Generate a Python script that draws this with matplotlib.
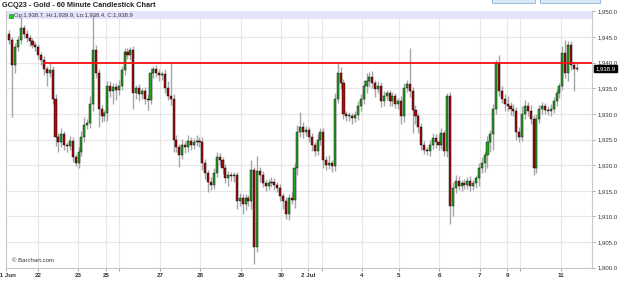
import matplotlib
matplotlib.use("Agg")
import matplotlib.pyplot as plt
from matplotlib.patches import Rectangle
import numpy as np

# Hourly closes for GCQ23 (gold, August 2023 contract)
closes = [
    1944.5, 1939.5, 1943.0, 1944.5, 1946.8, 1945.5, 1944.8, 1944.2, 1943.5, 1943.0,
    1941.5, 1940.5, 1938.8, 1938.0, 1938.6, 1933.0, 1925.5, 1924.5, 1926.0, 1924.0,
    1923.8, 1924.8, 1921.5, 1920.5, 1922.5, 1925.5, 1927.8, 1928.2, 1932.0, 1942.5,
    1938.0, 1931.0, 1929.5, 1930.2, 1935.5, 1934.5, 1935.3, 1934.6, 1935.5, 1938.5,
    1942.0, 1941.5, 1942.5, 1934.0, 1935.0, 1933.8, 1934.5, 1933.0, 1932.8, 1938.0,
    1938.8, 1938.0, 1937.5, 1937.8, 1935.0, 1933.5, 1933.0, 1925.0, 1923.5, 1922.0,
    1924.0, 1923.5, 1924.8, 1924.0, 1924.5, 1924.8, 1924.6, 1920.5, 1918.5, 1916.8,
    1916.2, 1918.5, 1921.5, 1921.0, 1919.5, 1917.5, 1918.0, 1917.8, 1918.0, 1913.0,
    1913.5, 1912.5, 1913.5, 1913.0, 1919.0, 1904.0, 1918.8, 1918.0, 1916.5, 1916.0,
    1916.5, 1916.8, 1916.2, 1915.5, 1914.0, 1913.0, 1910.5, 1913.5, 1913.2, 1919.5,
    1926.5, 1927.5, 1926.5, 1926.8, 1925.5, 1924.0, 1922.8, 1925.0, 1926.5, 1921.0,
    1920.0, 1920.5, 1919.8, 1933.0, 1938.0, 1936.0, 1930.0, 1929.5, 1929.6, 1929.3,
    1929.8, 1931.5, 1933.0, 1935.5, 1936.5, 1937.3, 1936.0, 1934.8, 1935.5, 1932.5,
    1933.5, 1934.0, 1932.5, 1933.5, 1932.0, 1932.5, 1929.5, 1935.0, 1935.8, 1934.5,
    1930.8, 1929.5, 1927.5, 1924.0, 1923.0, 1922.8, 1924.0, 1925.3, 1924.5, 1924.0,
    1926.2, 1922.8, 1933.5, 1912.0, 1915.5, 1917.0, 1916.0, 1916.5, 1916.2, 1917.0,
    1916.0, 1916.5, 1917.5, 1919.5, 1920.5, 1922.0, 1924.5, 1926.0, 1931.0, 1940.0,
    1934.5, 1933.0, 1932.0, 1931.5, 1931.0, 1930.5, 1926.5, 1925.5, 1930.0, 1931.5,
    1930.5, 1929.0, 1919.5, 1929.0, 1931.0, 1931.5, 1930.8, 1930.5, 1931.0, 1932.5,
    1934.0, 1935.5, 1941.8, 1938.0, 1943.5, 1939.5, 1938.7, 1938.9,
]
first_open = 1945.5

# Wick lengths above / below each candle body
upper_wick = [
    0.8, 0.6, 0.8, 0.7, 2.2, 0.6, 0.8, 0.6, 0.7, 0.6,
    0.7, 0.6, 0.8, 0.6, 1.5, 0.7, 0.9, 0.8, 1.2, 0.7,
    0.6, 0.9, 0.7, 0.6, 1.0, 1.2, 1.6, 0.8, 1.5, 6.8,
    1.0, 0.8, 0.7, 0.6, 0.9, 1.0, 0.8, 0.7, 1.2, 0.9,
    0.8, 0.9, 0.6, 0.7, 0.6, 0.8, 0.6, 0.7, 0.9, 1.0,
    0.6, 0.8, 0.7, 0.6, 0.9, 1.5, 6.5, 0.8, 0.8, 0.6,
    1.2, 0.8, 1.1, 0.7, 0.8, 1.0, 0.6, 0.8, 0.7, 0.6,
    0.8, 1.0, 1.0, 0.8, 0.6, 0.7, 0.9, 0.6, 0.7, 0.6,
    1.0, 0.8, 0.9, 0.7, 2.0, 0.6, 3.0, 0.9, 0.8, 0.6,
    0.8, 0.9, 0.7, 0.6, 0.8, 0.6, 0.7, 0.9, 1.2, 1.0,
    1.3, 2.8, 0.9, 0.8, 0.7, 0.8, 0.6, 1.0, 0.8, 0.7,
    0.8, 1.5, 0.6, 1.0, 1.9, 1.2, 0.8, 0.6, 0.7, 0.6,
    0.8, 1.0, 0.9, 1.2, 1.5, 0.9, 1.0, 0.7, 1.0, 0.8,
    0.9, 0.7, 0.6, 0.8, 0.6, 0.7, 0.9, 1.0, 0.8, 7.0,
    0.7, 0.9, 0.6, 0.7, 0.8, 0.6, 0.9, 1.0, 0.7, 1.5,
    1.0, 0.7, 0.5, 0.8, 1.2, 1.0, 0.8, 0.7, 0.9, 0.6,
    0.8, 0.7, 0.6, 0.9, 1.0, 0.8, 1.2, 0.9, 1.0, 0.5,
    1.5, 1.0, 0.8, 1.5, 0.9, 1.0, 0.8, 0.9, 1.5, 1.2,
    0.8, 1.2, 0.8, 0.9, 0.7, 0.8, 0.6, 0.7, 0.9, 0.8,
    0.9, 0.6, 1.5, 2.7, 0.8, 0.7, 0.9, 1.0,
]
lower_wick = [
    0.9, 10.1, 1.5, 0.7, 0.8, 0.6, 0.7, 0.9, 0.6, 0.8,
    0.7, 1.0, 1.2, 2.5, 0.8, 1.0, 1.8, 2.0, 0.9, 1.0,
    1.2, 0.8, 0.8, 0.7, 1.0, 0.8, 0.9, 0.7, 1.0, 1.5,
    1.0, 3.5, 1.0, 0.8, 1.5, 1.2, 2.5, 1.8, 1.0, 0.8,
    1.0, 0.8, 0.9, 3.0, 1.0, 1.2, 0.8, 1.0, 2.0, 0.8,
    0.9, 0.7, 1.0, 0.8, 1.0, 0.8, 1.2, 2.5, 1.0, 2.3,
    0.8, 1.2, 0.9, 1.0, 0.8, 0.7, 1.0, 1.5, 1.2, 2.0,
    1.0, 0.8, 0.9, 1.0, 1.2, 1.0, 1.5, 0.8, 1.0, 1.5,
    1.0, 2.0, 1.2, 1.0, 1.5, 3.2, 1.0, 1.2, 0.8, 1.0,
    0.9, 0.8, 1.0, 0.8, 1.0, 1.5, 1.0, 1.2, 0.8, 1.5,
    1.5, 1.0, 1.2, 0.8, 1.0, 1.2, 1.0, 0.8, 1.0, 1.5,
    1.0, 0.8, 1.2, 1.0, 0.9, 1.2, 1.0, 0.8, 0.9, 1.2,
    0.8, 1.0, 0.9, 1.0, 1.5, 1.2, 1.0, 1.5, 0.8, 1.2,
    1.0, 0.8, 1.0, 0.9, 0.8, 1.0, 1.5, 1.0, 0.8, 1.2,
    4.6, 1.5, 1.2, 1.0, 0.8, 0.9, 1.0, 0.8, 1.2, 1.0,
    0.8, 1.0, 1.2, 3.4, 2.0, 1.0, 0.8, 1.0, 0.9, 0.8,
    1.0, 0.8, 0.9, 1.5, 1.0, 1.8, 2.5, 2.0, 3.0, 1.0,
    1.0, 0.8, 1.5, 1.0, 1.2, 0.9, 1.5, 1.0, 0.8, 1.0,
    1.0, 0.9, 1.5, 1.0, 0.8, 1.0, 0.9, 0.8, 1.0, 0.8,
    1.0, 0.9, 0.8, 1.0, 1.5, 1.0, 4.2, 0.3,
]

# Session boundaries (bar index) and their date labels
day_labels = ["21 Jun", "22", "23", "25", "", "27", "28", "29", "30",
              "2 Jul", "", "4", "5", "6", "7", "9", "", "11"]
day_positions = [-1.15, 9.9, 23.8, 33.5, 38.0, 52.3, 66.2, 80.4, 94.3,
                 103.7, 108.5, 122.4, 135.3, 149.2, 163.4, 172.8, 177.4, 191.6]

price_ticks = [1900, 1905, 1910, 1915, 1920, 1925, 1930, 1935, 1940, 1945, 1950]
resistance = 1940.0
resistance_from = 11.6
last_bar = {"Op": 1938.7, "Hi": 1939.9, "Lo": 1938.4, "C": 1938.9}

UP = "#25a325"
DOWN = "#a30f0f"
WICK = "#a6a6a6"
GRID = "#e6e6e6"
TEXT = "#333333"

W, H = 624, 282
fig = plt.figure(figsize=(W / 100, H / 100), dpi=100)
fig.patch.set_facecolor("white")
ax = fig.add_axes([6 / W, (H - 267.7) / H, (592 - 6) / W, (267.7 - 11.4) / H])

opens = np.array([first_open] + closes[:-1])
c = np.array(closes)
x = np.arange(len(c))
hi = np.maximum(opens, c) + np.array(upper_wick)
lo = np.minimum(opens, c) - np.array(lower_wick)

ax.vlines(x, lo, hi, color=WICK, lw=1.0, zorder=2)
up = c >= opens
bottom = np.minimum(opens, c)
height = np.maximum(np.abs(c - opens), 0.2)
ax.bar(x[up], height[up], bottom=bottom[up], width=0.72, color=UP,
       edgecolor="black", linewidth=0.3, zorder=3)
ax.bar(x[~up], height[~up], bottom=bottom[~up], width=0.72, color=DOWN,
       edgecolor="black", linewidth=0.3, zorder=3)

x_left, x_right = -1.19, 202.3
ax.set_xlim(x_left, x_right)
ax.set_ylim(1900, 1950)

ax.hlines(resistance, resistance_from, x_right, color="#ff1010", lw=1.3, zorder=4)

# grid
for p in price_ticks:
    ax.axhline(p, color=GRID, lw=0.8, zorder=0)
for p in day_positions[1:]:
    ax.axvline(p, color=GRID, lw=0.8, zorder=0)

# header strip with last-bar values
ax.add_patch(Rectangle((0, 1 - 7.5 / 256.3), 1, 7.5 / 256.3, transform=ax.transAxes,
                       facecolor="#e4e4fb", edgecolor="none", zorder=0.5))
ax.add_patch(Rectangle((3.2 / 586, 1 - 6.2 / 256.3), 3.6 / 586, 3.6 / 256.3,
                       transform=ax.transAxes, facecolor="#22cc22",
                       edgecolor="#117711", lw=0.4, zorder=5))
legend_text = ", ".join(f"{k}:{v:,.1f}" for k, v in last_bar.items())
ax.text(8.0 / 586, 1 - 4.2 / 256.3, legend_text, transform=ax.transAxes,
        fontsize=4.2, color=TEXT, va="center", ha="left", zorder=5,
        family="Liberation Sans")

ax.text(6 / 586, 7.0 / 256.3, "\u00a9 Barchart.com", transform=ax.transAxes,
        fontsize=4.3, color=TEXT, va="center", ha="left", family="Liberation Sans")

# axes styling
for side in ["left", "right", "bottom"]:
    ax.spines[side].set_color("#c8c8c8")
    ax.spines[side].set_linewidth(0.8)
ax.spines["top"].set_visible(False)

ax.yaxis.tick_right()
ax.set_yticks(price_ticks)
ax.set_yticklabels([f"{p:,.1f}" for p in price_ticks], fontsize=4.3, color=TEXT,
                   family="Liberation Sans")
ax.tick_params(axis="y", length=2.5, width=0.6, color="#999999", pad=1.5)

ax.set_xticks(day_positions)
ax.set_xticklabels(day_labels, fontsize=4.5, fontweight="bold", color=TEXT,
                   family="Liberation Sans")
ax.tick_params(axis="x", length=2.5, width=0.6, color="#999999", pad=1.5)

# last price marker
ax.text(1.006, last_bar["C"], f"{last_bar['C']:,.1f}",
        transform=ax.get_yaxis_transform(), fontsize=4.3, color="white",
        va="center", ha="left", family="Liberation Sans", zorder=6,
        bbox=dict(boxstyle="square,pad=0.2", facecolor="black", edgecolor="black"),
        clip_on=False)

fig.text(1.5 / W, 1 - 5.5 / H, "GCQ23 - Gold - 60 Minute Candlestick Chart",
         fontsize=5.3, fontweight="bold", color="#222222", va="center", ha="left",
         family="Liberation Sans")

# toolbar buttons peeking in at the top edge
for bx0, bx1 in [(492, 535), (540, 600)]:
    fig.patches.append(Rectangle((bx0 / W, 1 - 2.5 / H), (bx1 - bx0) / W, 4 / H,
                                 transform=fig.transFigure, facecolor="#d8e8f8",
                                 edgecolor="#8fb4dc", lw=0.6))

fig.savefig("out.png", dpi=100)
